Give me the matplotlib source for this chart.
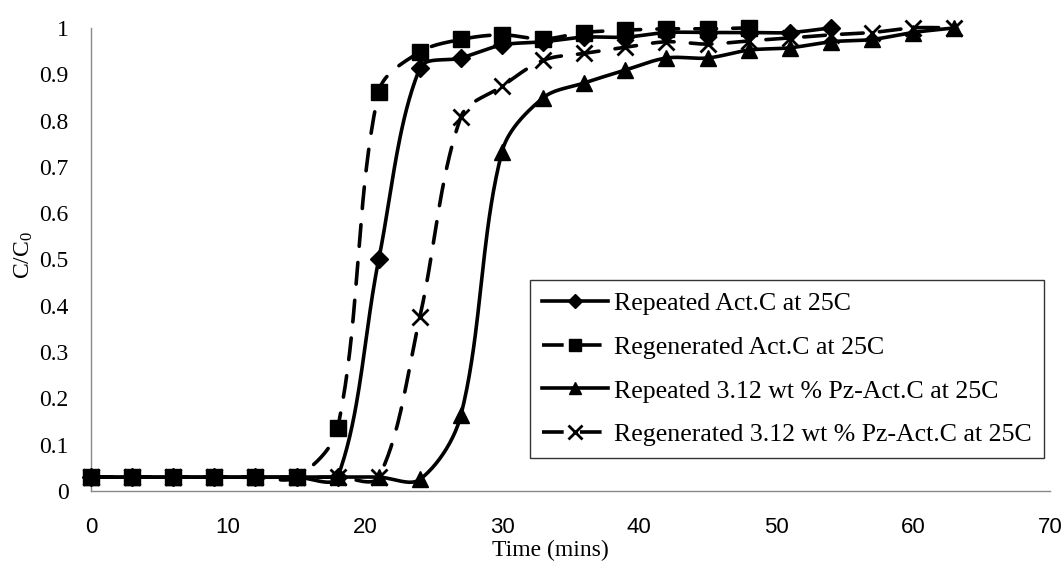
import numpy as np
import matplotlib
matplotlib.use("Agg")
import matplotlib.pyplot as plt
from matplotlib.lines import Line2D

plt.rcParams["mathtext.fontset"] = "custom"
plt.rcParams["mathtext.rm"] = "Liberation Serif"
plt.rcParams["mathtext.it"] = "Liberation Serif"

# ---- data ----
time_rep_act = [0, 3, 6, 9, 12, 15, 18, 21, 24, 27, 30, 33, 36, 39, 42, 45, 48, 51, 54]
rep_act = [0.03, 0.03, 0.03, 0.03, 0.03, 0.03, 0.03, 0.50, 0.913, 0.935, 0.963, 0.97,
           0.98, 0.98, 0.99, 0.99, 0.99, 0.99, 1.0]

time_regen_act = [0, 3, 6, 9, 12, 15, 18, 21, 24, 27, 30, 33, 36, 39, 42, 45, 48]
regen_act = [0.03, 0.03, 0.03, 0.03, 0.03, 0.03, 0.136, 0.862, 0.948, 0.975, 0.985, 0.976,
             0.99, 0.995, 0.998, 0.998, 1.0]

time_rep_pz = [0, 3, 6, 9, 12, 15, 18, 21, 24, 27, 30, 33, 36, 39, 42, 45, 48, 51, 54, 57, 60, 63]
rep_pz = [0.03, 0.03, 0.03, 0.03, 0.03, 0.03, 0.03, 0.03, 0.025, 0.164, 0.733, 0.849,
          0.881, 0.909, 0.935, 0.935, 0.952, 0.957, 0.97, 0.975, 0.99, 1.0]

time_regen_pz = [0, 3, 6, 9, 12, 15, 18, 21, 24, 27, 30, 33, 36, 39, 42, 45, 48, 51, 54, 57, 60, 63]
regen_pz = [0.03, 0.03, 0.03, 0.03, 0.03, 0.03, 0.03, 0.03, 0.376, 0.808, 0.874, 0.93,
            0.945, 0.958, 0.97, 0.965, 0.972, 0.978, 0.985, 0.99, 1.0, 1.0]

labels = ["Repeated Act.C at 25C", "Regenerated Act.C at 25C",
          "Repeated 3.12 wt % Pz-Act.C at 25C", "Regenerated 3.12 wt % Pz-Act.C at 25C"]

x_ticks = [0, 10, 20, 30, 40, 50, 60, 70]
y_ticks = [0, 0.1, 0.2, 0.3, 0.4, 0.5, 0.6, 0.7, 0.8, 0.9, 1.0]


def smooth(ax, x, y, n=40):
    """Excel-like smoothed line computed in display space (cubic Bezier)."""
    P = ax.transData.transform(np.column_stack([x, y]).astype(float))
    out = [P[0]]
    t = np.linspace(0, 1, n)[1:]
    for i in range(len(P) - 1):
        p0 = P[i - 1] if i > 0 else P[i]
        p1 = P[i]
        p2 = P[i + 1]
        p3 = P[i + 2] if i + 2 < len(P) else P[i + 1]
        d01 = np.hypot(*(p1 - p0))
        d12 = np.hypot(*(p2 - p1))
        d23 = np.hypot(*(p3 - p2))
        f1 = d12 / (d01 + d12) / 3.0 if (d01 + d12) > 0 else 0
        f2 = d12 / (d12 + d23) / 3.0 if (d12 + d23) > 0 else 0
        c1 = p1 + (p2 - p0) * f1
        c2 = p2 - (p3 - p1) * f2
        seg = ((1 - t)[:, None] ** 3 * p1 + 3 * ((1 - t) ** 2 * t)[:, None] * c1
               + 3 * ((1 - t) * t ** 2)[:, None] * c2 + (t ** 3)[:, None] * p2)
        out.extend(seg)
    out = ax.transData.inverted().transform(np.array(out))
    return out[:, 0], out[:, 1]


fig = plt.figure(figsize=(10.64, 5.69), dpi=100)
ax = fig.add_axes([0.0855, 0.137, 0.9015, 0.814])
ax.set_xlim(0, 70)
ax.set_ylim(0, 1)

lw = 2.6
dash = (0, (6, 4.5))
series = [
    (time_rep_act, rep_act, "D", 9, "-"),
    (time_regen_act, regen_act, "s", 11.5, dash),
    (time_rep_pz, rep_pz, "^", 11, "-"),
    (time_regen_pz, regen_pz, "x", 12, dash),
]

handles = []
for (tx, ty, mk, ms, ls), lab in zip(series, labels):
    sx, sy = smooth(ax, tx, ty)
    ax.plot(sx, sy, color="black", lw=lw, ls=ls, clip_on=False, solid_capstyle="round",
            dash_capstyle="round", zorder=3)
    ax.plot(tx, ty, ls="none", marker=mk, ms=ms, color="black", mew=2.0 if mk == "x" else 1,
            clip_on=False, zorder=4)
    handles.append(Line2D([], [], color="black", lw=lw, ls=ls, marker=mk,
                          ms=ms * 0.8, mew=2.0 if mk == "x" else 1))

ax.set_xticks(x_ticks)
ax.set_yticks(y_ticks)
ax.set_yticklabels(["0" if v == 0 else ("1" if v == 1 else f"{v:.1f}") for v in y_ticks],
                   family="Liberation Serif", fontsize=17)
ax.set_xticklabels([str(v) for v in x_ticks], family="Liberation Sans", fontsize=16)
ax.tick_params(axis="both", length=0)
ax.tick_params(axis="x", pad=19)
ax.tick_params(axis="y", pad=16)

for s in ["top", "right"]:
    ax.spines[s].set_visible(False)
for s in ["left", "bottom"]:
    ax.spines[s].set_color("#888888")
    ax.spines[s].set_linewidth(1.0)

ax.set_xlabel("Time (mins)", family="Liberation Serif", fontsize=17)
ax.xaxis.set_label_coords(0.479, -0.105)
ax.set_ylabel("C/C$_\\mathregular{0}$", family="Liberation Serif", fontsize=17)
ax.yaxis.set_label_coords(-0.058, 0.51)

leg = ax.legend(handles, labels, loc="upper left", bbox_to_anchor=(0.458, 0.455),
                prop={"family": "Liberation Serif", "size": 18.6}, frameon=True,
                fancybox=False, edgecolor="black", handlelength=2.55, handletextpad=0.25,
                labelspacing=0.8, borderpad=0.45, borderaxespad=0)
leg.get_frame().set_linewidth(1.0)

fig.savefig("out.png", dpi=100, facecolor="white")
